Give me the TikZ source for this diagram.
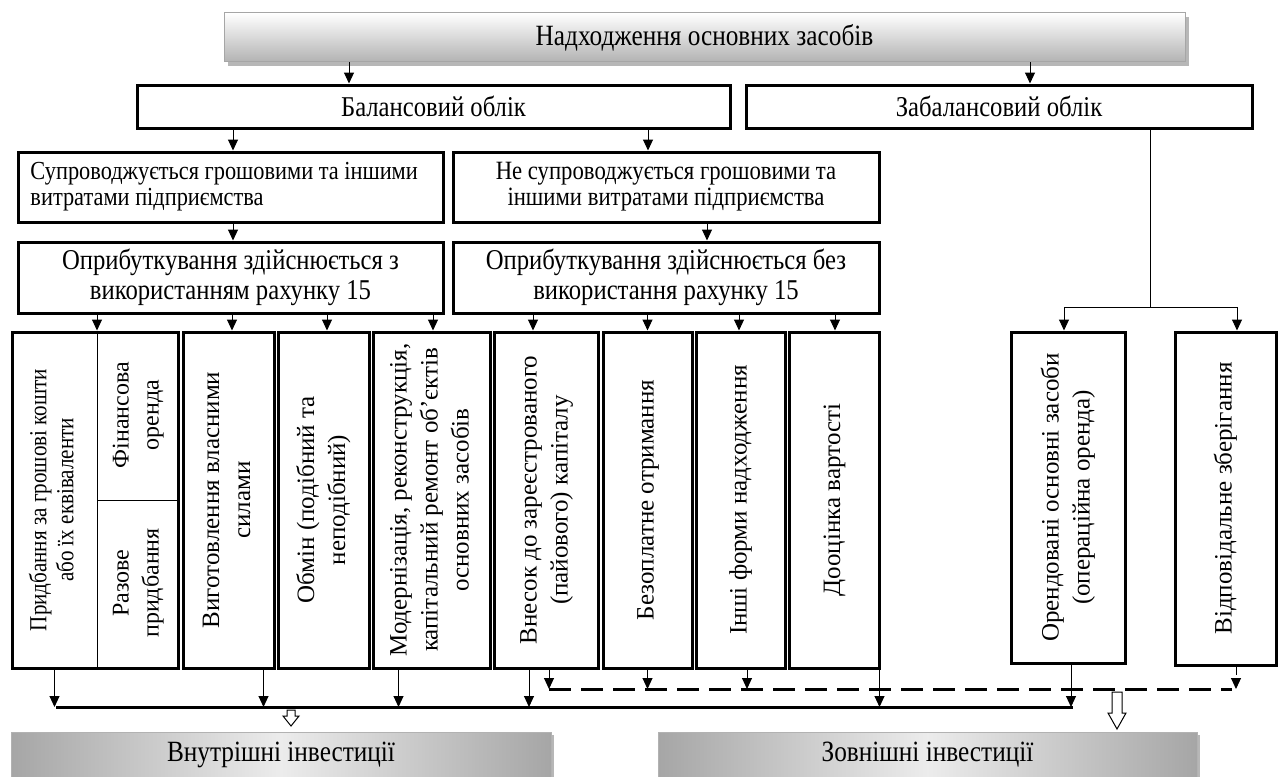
\documentclass[tikz,border=0pt]{standalone}
\usepackage{fontspec}
\setmainfont{Liberation Serif}
\newfontfamily\tallfont{Liberation Serif}[FakeStretch=0.86]
\usepackage{graphicx}
\usetikzlibrary{arrows.meta,shadows}

\tikzset{
  box/.style={draw, line width=3pt, inner sep=4pt, align=center, font=\tallfont\fontsize{28.7}{30}\selectfont},
  vbox/.style={draw, line width=3pt, inner sep=0pt, minimum height=336pt},
  headbox/.style={draw=gray!70, line width=1pt, top color=white, bottom color=gray!60,
    font=\tallfont\fontsize{29.4}{30}\selectfont,
    drop shadow={shadow xshift=4pt, shadow yshift=-4pt, fill=gray!80, opacity=0.7}},
  investbox/.style={draw=gray!60, line width=1pt, left color=gray!70, right color=gray!70, middle color=gray!15,
    font=\tallfont\fontsize{29.4}{30}\selectfont,
    drop shadow={shadow xshift=3pt, shadow yshift=-3pt, fill=gray!80, opacity=0.7}},
  arr/.style={line width=1pt, -{Triangle[width=10pt,length=11pt]}},
  dasharr/.style={arr, dash pattern=on 8pt off 4pt},
  sumline/.style={line width=3pt},
  dashsum/.style={line width=3pt, dash pattern=on 22pt off 10pt},
  hollow/.style={line width=1pt, fill=white}
}
\newcommand{\uptext}[1]{\rotatebox{90}{\begin{tabular}{@{}c@{}}#1\end{tabular}}}

\begin{document}
\begin{tikzpicture}[x=1pt, y=-1pt, font=\fontsize{25}{31}\selectfont]
  \useasboundingbox (0,0) rectangle (1279,776);

  % top levels
  \node[headbox, minimum width=961pt, minimum height=49pt] (inflow) at (704.5,37.5) {Надходження основних засобів};
  \node[box, minimum width=593pt, minimum height=43pt] (balance) at (433.5,106.5) {Балансовий облік};
  \node[box, minimum width=506pt, minimum height=43pt] (offbalance) at (999,106.5) {Забалансовий облік};
  \node[box, minimum width=425pt, minimum height=70pt, align=flush left, text width=400pt,
    font=\tallfont\fontsize{26}{26}\selectfont] (cost) at (230.5,187) {Супроводжується грошовими та іншими\\витратами підприємства};
  \node[box, minimum width=426pt, minimum height=70pt,
    font=\tallfont\fontsize{26.4}{26}\selectfont] (nocost) at (666,187) {Не супроводжується грошовими та\\іншими витратами підприємства};
  \node[box, minimum width=425pt, minimum height=71pt] (with15) at (230.5,277.5) {Оприбуткування здійснюється з\\використанням рахунку 15};
  \node[box, minimum width=426pt, minimum height=71pt] (without15) at (666,277.5) {Оприбуткування здійснюється без\\використання рахунку 15};

  % vertical boxes
  \node[vbox, minimum width=166pt] (buy) at (95,500) {};
  \node[inner sep=0pt, font=\tallfont\fontsize{24.5}{27}\selectfont] (buymoney) at (54.5,500) {\uptext{Придбання за грошові кошти\\або їх еквіваленти}};
  \node[inner sep=0pt, font=\fontsize{24}{30}\selectfont] (finlease) at (137.5,415) {\uptext{Фінансова\\оренда}};
  \node[inner sep=0pt, font=\fontsize{24}{30}\selectfont] (oneoff) at (137.5,583) {\uptext{Разове\\придбання}};
  \draw[line width=1pt] ([xshift=2pt]buy.north) -- ([xshift=2pt]buy.south);
  \draw[line width=1pt] ([xshift=2pt]buy.center) -- (buy.east);
  \node[vbox, minimum width=91pt] (make) at (228.5,500) {\uptext{Виготовлення власними\\силами}};
  \node[vbox, minimum width=91pt] (swap) at (323.5,500) {\uptext{Обмін (подібний та\\неподібний)}};
  \node[vbox, minimum width=117pt] (modern) at (431.5,500) {\uptext{Модернізація, реконструкція,\\капітальний ремонт об’єктів\\основних засобів}};
  \node[vbox, minimum width=104pt] (contrib) at (546,500) {\uptext{Внесок до зареєстрованого\\(пайового) капіталу}};
  \node[vbox, minimum width=89pt] (free) at (647.5,500) {\uptext{Безоплатне отримання}};
  \node[vbox, minimum width=89pt] (other) at (740.5,500) {\uptext{Інші форми надходження}};
  \node[vbox, minimum width=90pt] (reval) at (834,500) {\uptext{Дооцінка вартості}};
  \node[vbox, minimum width=114pt, minimum height=331pt] (leased) at (1068,497.5) {\uptext{Орендовані основні засоби\\(операційна оренда)}};
  \node[vbox, minimum width=101pt, minimum height=333pt] (custody) at (1225.5,498.5) {\uptext{Відповідальне зберігання}};

  % investments
  \node[investbox, minimum width=540pt, minimum height=46pt] (internal) at (281,755) {Внутрішні інвестиції};
  \node[investbox, minimum width=539pt, minimum height=46pt] (external) at (927.5,755) {Зовнішні інвестиції};

  % arrows downwards
  \draw[arr] ([xshift=-84.5pt]balance.north |- inflow.south) -- ([xshift=-84.5pt]balance.north);
  \draw[arr] ([xshift=31pt]offbalance.north |- inflow.south) -- ([xshift=31pt]offbalance.north);
  \draw[arr] ([xshift=2.5pt]cost.north |- balance.south) -- ([xshift=2.5pt]cost.north);
  \draw[arr] ([xshift=-18pt]nocost.north |- balance.south) -- ([xshift=-18pt]nocost.north);
  \draw[arr] ([xshift=2.5pt]cost.south) -- ([xshift=2.5pt]with15.north);
  \draw[arr] ([xshift=41pt]nocost.south) -- ([xshift=41pt]without15.north);

  \draw[arr] ([xshift=2pt]buy.north |- with15.south) -- ([xshift=2pt]buy.north);
  \draw[arr] ([xshift=3.5pt]make.north |- with15.south) -- ([xshift=3.5pt]make.north);
  \draw[arr] ([xshift=3.5pt]swap.north |- with15.south) -- ([xshift=3.5pt]swap.north);
  \draw[arr] ([xshift=1.5pt]modern.north |- with15.south) -- ([xshift=1.5pt]modern.north);
  \draw[arr] ([xshift=-13pt]contrib.north |- without15.south) -- ([xshift=-13pt]contrib.north);
  \draw[arr] (free.north |- without15.south) -- (free.north);
  \draw[arr] ([xshift=-1.5pt]other.north |- without15.south) -- ([xshift=-1.5pt]other.north);
  \draw[arr] ([xshift=1pt]reval.north |- without15.south) -- ([xshift=1pt]reval.north);

  \coordinate (split) at (1150,307);
  \draw[line width=1pt] (offbalance.south -| split) -- (split);
  \draw[arr] (split) -| ([xshift=-4pt]leased.north);
  \draw[arr] (split) -| ([xshift=11.5pt]custody.north);

  % collecting lines
  \coordinate (sumL) at (56,707);
  \coordinate (sumR) at (1073,707);
  \coordinate (dashL) at (549,689);
  \coordinate (dashR) at (1232,689);
  \draw[sumline] (sumL) -- (sumR);
  \draw[dashsum] (dashL) -- (dashR);

  \draw[arr] (buymoney |- buy.south) -- (buymoney |- sumL);
  \draw[arr] ([xshift=-12pt]make.south east) -- ([xshift=-12pt]make.south east |- sumL);
  \draw[arr] ([xshift=27pt]modern.south west) -- ([xshift=27pt]modern.south west |- sumL);
  \draw[arr] ([xshift=-17pt]contrib.south) -- ([xshift=-17pt]contrib.south |- sumL);
  \draw[arr] ([xshift=-1pt]reval.south east) -- ([xshift=-1pt]reval.south east |- sumL);
  \draw[arr] ([xshift=3pt]leased.south) -- ([xshift=3pt]leased.south |- sumL);

  \draw[dasharr] ([xshift=3pt]contrib.south) -- ([xshift=3pt]contrib.south |- dashL);
  \draw[dasharr] (free.south) -- (free.south |- dashL);
  \draw[dasharr] ([xshift=6.5pt]other.south) -- ([xshift=6.5pt]other.south |- dashL);
  \draw[dasharr] ([xshift=10.5pt]custody.south) -- ([xshift=10.5pt]custody.south |- dashL);

  % hollow arrows
  \draw[hollow] (287,710) -- (287,716) -- (283,716) -- (291,726) -- (299,716) -- (295,716) -- (295,710) -- cycle;
  \draw[hollow] (1112,692) -- (1112,713) -- (1108,713) -- (1117,729) -- (1126,713) -- (1122,713) -- (1122,692) -- cycle;
\end{tikzpicture}
\end{document}
